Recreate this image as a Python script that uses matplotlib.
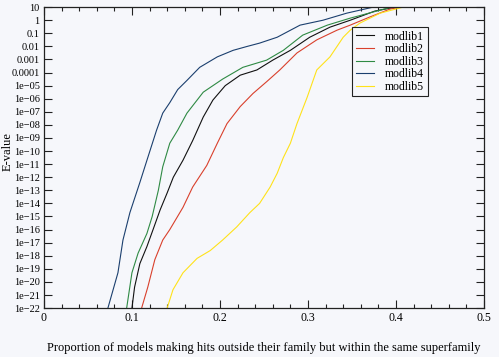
import matplotlib
matplotlib.use("Agg")
import matplotlib.pyplot as plt
from matplotlib.ticker import FixedLocator

plt.rcParams['font.family'] = ['Liberation Serif', 'DejaVu Serif']

# proportion (x) and log10(E-value) (y) for each library
modlib1_x = [0.100, 0.103, 0.109, 0.117, 0.124, 0.132, 0.140, 0.147, 0.158, 0.169, 0.181,
             0.192, 0.206, 0.223, 0.242, 0.260, 0.280, 0.302, 0.325, 0.348, 0.376, 0.399]
modlib1_y = [-22, -20.4, -18.6, -17.3, -16.0, -14.5, -13.2, -12.0, -10.7, -9.2, -7.4,
             -6.1, -5.0, -4.2, -3.8, -3.05, -2.3, -1.3, -0.53, 0.0, 0.7, 1.0]

modlib2_x = [0.111, 0.118, 0.126, 0.135, 0.143, 0.158, 0.169, 0.185, 0.197, 0.208, 0.223,
             0.2375, 0.253, 0.268, 0.2875, 0.310, 0.333, 0.348, 0.370, 0.393, 0.405]
modlib2_y = [-22, -20.4, -18.3, -16.8, -16.0, -14.3, -12.75, -11.1, -9.4, -7.9, -6.6,
             -5.6, -4.7, -3.8, -2.5, -1.5, -0.76, -0.375, 0.24, 0.85, 1.0]

modlib3_x = [0.094, 0.100, 0.107, 0.117, 0.123, 0.130, 0.135, 0.143, 0.152, 0.1625, 0.181,
             0.203, 0.226, 0.253, 0.272, 0.294, 0.322, 0.348, 0.382, 0.395]
modlib3_y = [-22, -19.3, -17.8, -16.3, -15.0, -13.0, -11.2, -9.4, -8.4, -7.1, -5.5,
             -4.5, -3.6, -3.05, -2.3, -1.14, -0.375, 0.16, 0.77, 1.0]

modlib4_x = [0.0727, 0.0841, 0.0898, 0.0977, 0.109, 0.118, 0.128, 0.135, 0.143, 0.152, 0.1625,
             0.177, 0.197, 0.215, 0.231, 0.245, 0.265, 0.291, 0.317, 0.344, 0.374]
modlib4_y = [-22, -19.3, -16.8, -14.7, -12.4, -10.5, -8.4, -7.1, -6.3, -5.3, -4.6,
             -3.6, -2.8, -2.3, -2.0, -1.75, -1.3, -0.375, 0.0, 0.54, 1.0]

modlib5_x = [0.140, 0.1466, 0.158, 0.174, 0.189, 0.203, 0.219, 0.234, 0.245, 0.257, 0.265,
             0.272, 0.280, 0.2875, 0.299, 0.310, 0.325, 0.340, 0.348, 0.359, 0.382, 0.408]
modlib5_y = [-22, -20.6, -19.3, -18.2, -17.6, -16.8, -15.8, -14.7, -14.0, -12.75, -11.7,
             -10.5, -9.4, -7.9, -5.9, -3.8, -2.8, -1.3, -0.76, -0.22, 0.54, 1.0]

series = [("modlib1", modlib1_x, modlib1_y, "#111111"),
          ("modlib2", modlib2_x, modlib2_y, "#d9402c"),
          ("modlib3", modlib3_x, modlib3_y, "#2f8a44"),
          ("modlib4", modlib4_x, modlib4_y, "#1b3f6e"),
          ("modlib5", modlib5_x, modlib5_y, "#ffe21a")]

x_ticks = [0, 0.1, 0.2, 0.3, 0.4, 0.5]
x_labels = ["0", "0.1", "0.2", "0.3", "0.4", "0.5"]
y_labels = ["10", "1", "0.1", "0.01", "0.001", "0.0001"] + \
           ["1e\u2212%02d" % i for i in range(5, 23)]
y_ticks = [10.0 ** (1 - i) for i in range(len(y_labels))]

fig = plt.figure(figsize=(4.99, 3.57), dpi=100, facecolor="#f6f7fb")
ax = fig.add_axes([0.088, 0.137, 0.882, 0.843])
ax.set_facecolor("#f6f7fb")

for name, xs, ys, col in series:
    ax.plot(xs, [10.0 ** v for v in ys], color=col, lw=0.8, label=name)

ax.set_yscale("log")
ax.set_xlim(0, 0.5)
ax.set_ylim(1e-22, 10)
ax.yaxis.set_major_locator(FixedLocator(y_ticks))
ax.yaxis.set_minor_locator(FixedLocator([]))
ax.set_yticklabels(y_labels)
ax.xaxis.set_major_locator(FixedLocator(x_ticks))
ax.xaxis.set_minor_locator(FixedLocator([i * 0.02 for i in range(26)]))
ax.set_xticklabels(x_labels)

ax.tick_params(which="both", direction="in", top=True, right=True, labelsize=7.5,
               width=0.8, color="#222222", pad=3)
ax.tick_params(which="major", length=6)
ax.tick_params(which="minor", length=3)
ax.tick_params(axis="x", labelsize=8.5)
for s in ax.spines.values():
    s.set_linewidth(0.9)
    s.set_color("#222222")

ax.set_xlabel("Proportion of models making hits outside their family but within the same superfamily",
              fontsize=9, labelpad=13)
ax.set_ylabel("E-value", fontsize=9, va="center")
ax.yaxis.set_label_coords(-0.082, 0.52)

leg = ax.legend(loc="upper left", bbox_to_anchor=(0.70, 0.934), fontsize=8.5, frameon=True,
                fancybox=False, handlelength=1.6, borderpad=0.3, labelspacing=0.05,
                handletextpad=0.9, borderaxespad=0)
leg.get_frame().set_edgecolor("#222222")
leg.get_frame().set_linewidth(0.8)
leg.get_frame().set_facecolor("#f6f7fb")
leg.get_frame().set_alpha(1)

fig.savefig("out.png", dpi=100, facecolor=fig.get_facecolor())
